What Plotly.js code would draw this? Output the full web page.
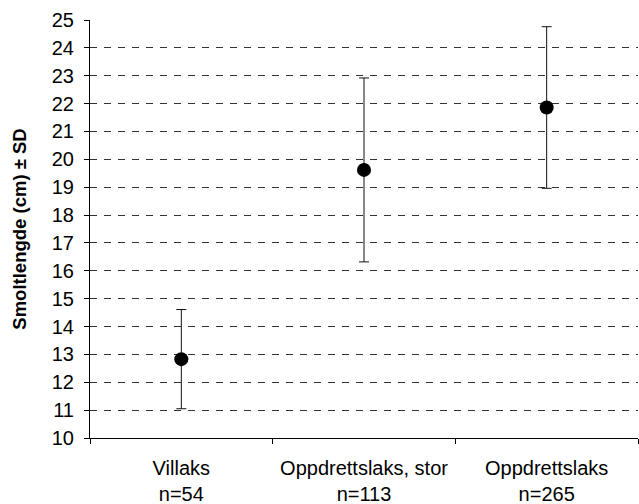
<!DOCTYPE html>
<html>
<head>
<meta charset="utf-8">
<script src="https://cdn.plot.ly/plotly-3.0.1.min.js"></script>
<style>html,body{margin:0;padding:0;background:#fff;}#chart{width:639px;height:504px;}</style>
</head>
<body>
<div id="chart"></div>
<script>
const categories = ["Villaks<br>n=54", "Oppdrettslaks, stor<br>n=113", "Oppdrettslaks<br>n=265"];
const means = [12.83, 19.62, 21.86];
const sd = [1.78, 3.3, 2.9];
const yTicks = [10,11,12,13,14,15,16,17,18,19,20,21,22,23,24,25];

const trace = {
  type: "scatter",
  mode: "markers",
  x: categories,
  y: means,
  marker: {color: "#000", size: 14},
  error_y: {type: "data", array: sd, visible: true, color: "#111", thickness: 1, width: 5},
  showlegend: false,
  hoverinfo: "skip"
};

const layout = {
  width: 639, height: 504,
  margin: {l: 90, r: 1, t: 20, b: 66},
  paper_bgcolor: "#fff", plot_bgcolor: "#fff",
  font: {family: "Arial, 'Liberation Sans', sans-serif", size: 20, color: "#000"},
  xaxis: {
    type: "category",
    range: [-0.5, 2.5],
    tickson: "boundaries",
    ticks: "outside", ticklen: 5, tickcolor: "#000",
    showline: true, linecolor: "#000", linewidth: 1,
    showgrid: false, zeroline: false,
    tickfont: {size: 20},
    ticklabelstandoff: 12,
    fixedrange: true
  },
  yaxis: {
    range: [10, 25],
    tickvals: yTicks,
    ticktext: yTicks.map(String),
    ticks: "outside", ticklen: 5, tickcolor: "#000",
    showline: true, linecolor: "#000", linewidth: 1,
    showgrid: true, gridcolor: "#333", griddash: "7px,7px", gridwidth: 1,
    zeroline: false,
    tickfont: {size: 20},
    ticklabelstandoff: 6,
    title: {text: "<b>Smoltlengde (cm) ± SD</b>", font: {size: 18.5}, standoff: 20},
    fixedrange: true
  }
};

Plotly.newPlot("chart", [trace], layout, {displayModeBar: false, staticPlot: true});
</script>
</body>
</html>
